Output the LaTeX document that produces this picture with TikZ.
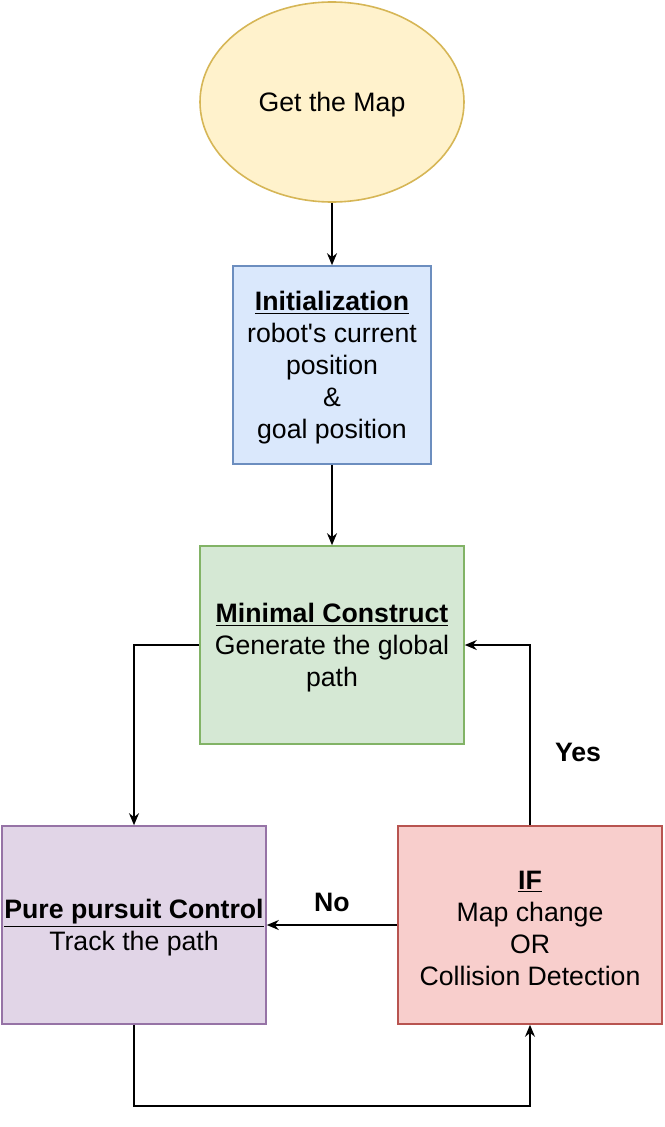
\documentclass[tikz,border=0pt]{standalone}
\usepackage{fontspec}
\setmainfont{Liberation Sans}
\usetikzlibrary{arrows.meta,positioning,calc,shapes.geometric}
\definecolor{mapfill}{HTML}{FFF2CC}\definecolor{mapdraw}{HTML}{D6B656}
\definecolor{initfill}{HTML}{DAE8FC}\definecolor{initdraw}{HTML}{6C8EBF}
\definecolor{mcfill}{HTML}{D5E8D4}\definecolor{mcdraw}{HTML}{82B366}
\definecolor{ppfill}{HTML}{E1D5E7}\definecolor{ppdraw}{HTML}{9673A6}
\definecolor{iffill}{HTML}{F8CECC}\definecolor{ifdraw}{HTML}{B85450}
\newcommand{\hd}[1]{\rule{0pt}{19pt}\underline{\textbf{#1}}}

\begin{document}
\begin{tikzpicture}[x=0.75pt,y=-0.75pt,>={Stealth[length=9pt,width=7.5pt]},
  every node/.style={font=\fontsize{20}{24}\selectfont,align=center,inner sep=0pt},
  blk/.style={rectangle,draw,line width=1.2pt,minimum width=198pt,minimum height=148.5pt},
  flow/.style={->,line width=1.3pt,black}]
  \useasboundingbox (0,0) rectangle (664,1127);
  % start and the straight chain
  \node[ellipse,draw=mapdraw,fill=mapfill,line width=1.2pt,minimum width=198pt,minimum height=150pt] (map) at (332,102) {\rule{0pt}{19pt}Get the Map};
  \node[blk,draw=initdraw,fill=initfill,minimum width=148.5pt] (init) at (332,365)
    {\hd{Initialization}\\robot\textquotesingle s current\\position\\\&\\goal position};
  \node[blk,draw=mcdraw,fill=mcfill] (mc) at (332,645)
    {\hd{Minimal Construct}\\Generate the global\\path};
  \node[blk,draw=ppdraw,fill=ppfill] (pp) at (134,925)
    {\hd{Pure pursuit Control}\\Track the path};
  \node[blk,draw=ifdraw,fill=iffill] (cond) at (530,925)
    {\hd{IF}\\Map change\\OR\\Collision Detection};
  \draw[flow] (map) -- (init);
  \draw[flow] (init) -- (mc);
  % loop round the bottom
  \draw[flow] (mc.west) -| (pp.north);
  \draw[flow] (cond.west) -- node[above=9pt,font=\fontsize{20}{24}\selectfont\bfseries]{No} (pp.east);
  \draw[flow] (cond.north) |- (mc.east);
  \node[font=\fontsize{20}{24}\selectfont\bfseries] (yes) at (578,752) {Yes};
  \coordinate (low) at (134,1106);
  \draw[flow] (pp.south) -- (low) -| (cond.south);
\end{tikzpicture}
\end{document}
